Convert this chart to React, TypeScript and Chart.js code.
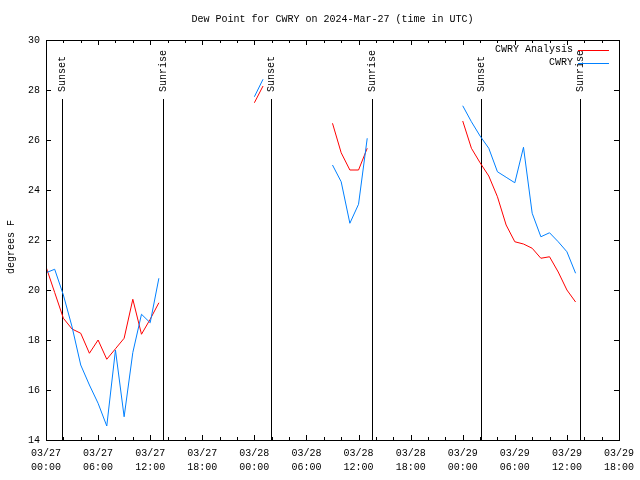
import React, { useEffect, useRef } from 'react';
import { Chart, registerables } from 'chart.js';

Chart.register(...registerables);

const TITLE = 'Dew Point for CWRY on 2024-Mar-27 (time in UTC)';
const Y_LABEL = 'degrees F';
const SERIES_NAMES = ['CWRY Analysis', 'CWRY'];
const SERIES_COLORS = ['#ff0000', '#0080ff'];
const DAYS = ['03/27', '03/28', '03/29'];

// hours since 03/27 00:00 UTC (null values break the lines)
const HOURS = [
  0, 1, 2, 3, 4, 5, 6, 7, 8, 9, 10, 11, 12, 13, 18,
  24, 25, 30,
  33, 34, 35, 36, 37, 42,
  48, 49, 50, 51, 52, 53, 54, 55, 56, 57, 58, 59, 60, 61,
];
const ANALYSIS = [
  20.93, 19.9, 18.87, 18.44, 18.27, 17.47, 18.0, 17.23, 17.65, 18.07, 19.63, 18.23, 18.83, 19.49, null,
  27.49, 28.16, null,
  26.67, 25.49, 24.8, 24.8, 25.67, null,
  26.76, 25.67, 25.09, 24.56, 23.73, 22.6, 21.93, 21.84, 21.67, 21.27, 21.33, 20.72, 20.0, 19.52,
];
const OBSERVED = [
  20.69, 20.83, 19.8, 18.53, 17.0, 16.2, 15.47, 14.56, 17.6, 14.93, 17.5, 19.03, 18.69, 20.47, null,
  27.73, 28.43, null,
  25.0, 24.33, 22.67, 23.43, 26.07, null,
  27.37, 26.73, 26.16, 25.67, 24.73, 24.51, 24.29, 25.71, 23.07, 22.13, 22.29, 21.93, 21.53, 20.67,
];
const SUN_HOURS = [1.8, 13.45, 25.95, 37.55, 50.05, 61.55];
const SUN_LABELS = ['Sunset', 'Sunrise', 'Sunset', 'Sunrise', 'Sunset', 'Sunrise'];

const X_MIN = 0;
const X_MAX = 66;
const Y_MIN = 14;
const Y_MAX = 30;

const FONT_FAMILY = '"Liberation Mono", "DejaVu Sans Mono", monospace';
const FONT = `10px ${FONT_FAMILY}`;

const pad2 = (n: number) => (n < 10 ? '0' + n : '' + n);

const decorPlugin = {
  id: 'decor',
  beforeDatasetsDraw(chart: any) {
    const { ctx, chartArea, scales } = chart;
    const { top, bottom } = chartArea;
    const x = scales.x;
    ctx.save();
    ctx.strokeStyle = '#000';
    ctx.fillStyle = '#000';
    ctx.lineWidth = 1;
    ctx.font = FONT;
    SUN_HOURS.forEach((h, i) => {
      const px = Math.round(x.getPixelForValue(h)) + 0.5;
      ctx.beginPath();
      ctx.moveTo(px, top + 59);
      ctx.lineTo(px, bottom);
      ctx.stroke();
      ctx.save();
      ctx.translate(px, top + 52);
      ctx.rotate(-Math.PI / 2);
      ctx.textAlign = 'left';
      ctx.textBaseline = 'middle';
      ctx.fillText(SUN_LABELS[i], 0, 0);
      ctx.restore();
    });
    ctx.restore();
  },
  afterDraw(chart: any) {
    const { ctx, chartArea, scales } = chart;
    const { left, right, top, bottom } = chartArea;
    const x = scales.x;
    const y = scales.y;
    ctx.save();
    ctx.strokeStyle = '#000';
    ctx.lineWidth = 1;
    // x ticks (inward, mirrored)
    for (let h = X_MIN; h <= X_MAX; h += 2) {
      const px = Math.round(x.getPixelForValue(h)) + 0.5;
      const len = h % 6 === 0 ? 5 : 3;
      ctx.beginPath();
      ctx.moveTo(px, bottom);
      ctx.lineTo(px, bottom - len);
      ctx.moveTo(px, top);
      ctx.lineTo(px, top + len);
      ctx.stroke();
    }
    // y ticks
    for (let v = Y_MIN; v <= Y_MAX; v += 2) {
      const py = Math.round(y.getPixelForValue(v)) + 0.5;
      ctx.beginPath();
      ctx.moveTo(left, py);
      ctx.lineTo(left + 5, py);
      ctx.moveTo(right, py);
      ctx.lineTo(right - 5, py);
      ctx.stroke();
    }
    // border
    ctx.strokeRect(Math.round(left) + 0.5, Math.round(top) + 0.5, Math.round(right - left), Math.round(bottom - top));

    ctx.fillStyle = '#000';
    ctx.font = FONT;
    // title
    ctx.textAlign = 'center';
    ctx.textBaseline = 'middle';
    ctx.fillText(TITLE, (left + right) / 2, 19);
    // y label
    ctx.save();
    ctx.translate(11, (top + bottom) / 2 + 7);
    ctx.rotate(-Math.PI / 2);
    ctx.fillText(Y_LABEL, 0, 0);
    ctx.restore();
    // legend
    ctx.textAlign = 'right';
    SERIES_NAMES.forEach((name, i) => {
      const ly = top + 9.5 + i * 13;
      ctx.fillStyle = '#000';
      ctx.fillText(name, right - 46, ly);
      ctx.strokeStyle = SERIES_COLORS[i];
      ctx.beginPath();
      ctx.moveTo(right - 41, Math.round(ly) + 0.5);
      ctx.lineTo(right - 10, Math.round(ly) + 0.5);
      ctx.stroke();
    });
    ctx.restore();
  },
};

export default function App() {
  const canvasRef = useRef<HTMLCanvasElement | null>(null);

  useEffect(() => {
    if (!canvasRef.current) return;
    const makeData = (vals: (number | null)[]) => HOURS.map((h, i) => ({ x: h, y: vals[i] }));
    const chart = new Chart(canvasRef.current, {
      type: 'line',
      data: {
        datasets: [
          {
            label: SERIES_NAMES[0],
            data: makeData(ANALYSIS) as any,
            borderColor: SERIES_COLORS[0],
            borderWidth: 1,
            pointRadius: 0,
            tension: 0,
            spanGaps: false,
            order: 1,
          },
          {
            label: SERIES_NAMES[1],
            data: makeData(OBSERVED) as any,
            borderColor: SERIES_COLORS[1],
            borderWidth: 1,
            pointRadius: 0,
            tension: 0,
            spanGaps: false,
            order: 0,
          },
        ],
      },
      options: {
        responsive: false,
        animation: false,
        layout: { padding: { left: 0, right: 19, top: 40, bottom: 0 } },
        plugins: {
          legend: { display: false },
          title: { display: false },
          tooltip: { enabled: false },
        },
        scales: {
          x: {
            type: 'linear',
            min: X_MIN,
            max: X_MAX,
            afterFit: (s: any) => { s.height = 40; },
            grid: { display: false, drawTicks: false },
            border: { display: false },
            ticks: {
              stepSize: 2,
              autoSkip: false,
              maxRotation: 0,
              minRotation: 0,
              padding: 6,
              color: '#000',
              font: { family: FONT_FAMILY, size: 10, lineHeight: 1.4 },
              callback: (v: any) => {
                const h = Number(v);
                if (h % 6 !== 0) return '';
                return [DAYS[Math.floor(h / 24)], pad2(h % 24) + ':00'];
              },
            },
          },
          y: {
            min: Y_MIN,
            max: Y_MAX,
            afterFit: (s: any) => { s.width = 46; },
            grid: { display: false, drawTicks: false },
            border: { display: false },
            ticks: {
              stepSize: 2,
              padding: 6,
              color: '#000',
              font: { family: FONT_FAMILY, size: 10 },
            },
          },
        },
      },
      plugins: [decorPlugin],
    });
    return () => chart.destroy();
  }, []);

  return (
    <div style={{ position: 'fixed', left: 0, top: 0, width: 640, height: 480, background: '#fff' }}>
      <canvas ref={canvasRef} width={640} height={480} style={{ display: 'block', width: 640, height: 480 }} />
    </div>
  );
}
